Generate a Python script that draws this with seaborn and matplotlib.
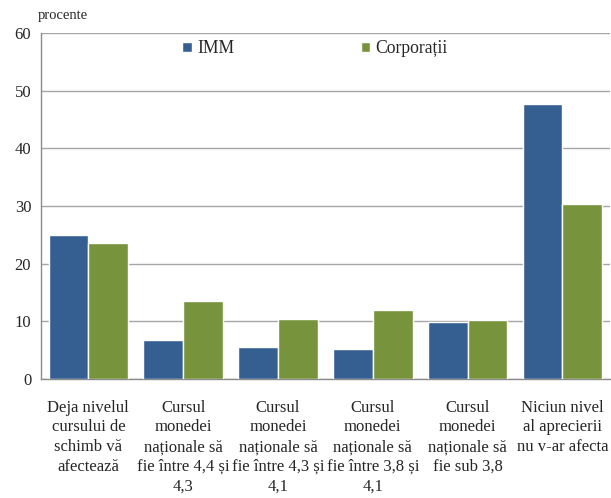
import pandas as pd
import matplotlib
matplotlib.use("Agg")
import matplotlib.pyplot as plt
import seaborn as sns
import numpy as np

# date
categorii = [
    "Deja nivelul\ncursului de\nschimb vă\nafectează",
    "Cursul\nmonedei\nnaționale să\nfie între 4,4 și\n4,3",
    "Cursul\nmonedei\nnaționale să\nfie între 4,3 și\n4,1",
    "Cursul\nmonedei\nnaționale să\nfie între 3,8 și\n4,1",
    "Cursul\nmonedei\nnaționale să\nfie sub 3,8",
    "Niciun nivel\nal aprecierii\nnu v-ar afecta",
]
imm = [25.0, 6.7, 5.6, 5.2, 9.9, 47.7]
corporatii = [23.6, 13.6, 10.4, 11.9, 10.2, 30.3]
serii = ["IMM", "Corporații"]
culori = ["#365f91", "#77933c"]

df = pd.DataFrame({
    "categorie": categorii * 2,
    "serie": [serii[0]] * len(categorii) + [serii[1]] * len(categorii),
    "valoare": imm + corporatii,
})

sns.set_style("white")
plt.rcParams['font.family'] = ['Liberation Serif', 'DejaVu Serif']

fig = plt.figure(figsize=(6.11, 4.98), dpi=100)
ax = fig.add_axes([0.067, 0.239, 0.931, 0.695])

sns.barplot(data=df, x="categorie", y="valoare", hue="serie",
            palette=culori, width=0.84, saturation=1, ax=ax, zorder=3)

ax.set_ylim(0, 60)
ax.set_xlim(-0.5, len(categorii) - 0.5)
ax.set_yticks(np.arange(0, 61, 10))
ax.yaxis.grid(True, color="#a6a6a6", linewidth=1, zorder=0)
ax.set_axisbelow(True)
ax.set_xlabel("")
ax.set_ylabel("")

ax.tick_params(axis="y", labelsize=12, length=4, color="#8c8c8c", pad=3)
ax.tick_params(axis="x", which="major", labelsize=12, length=0, pad=15)
ax.set_xticks(np.arange(len(categorii)))
ax.set_xticklabels(categorii, linespacing=1.3)
ax.set_xticks(np.arange(-0.5, len(categorii), 1), minor=True)
ax.tick_params(axis="x", which="minor", length=4, color="#8c8c8c")

for s in ["top", "right"]:
    ax.spines[s].set_visible(False)
for s in ["left", "bottom"]:
    ax.spines[s].set_color("#8c8c8c")
    ax.spines[s].set_linewidth(1)

leg = ax.legend(loc="upper center", bbox_to_anchor=(0.482, 1.025), ncol=2,
                frameon=False, fontsize=12.7, handlelength=0.55, handleheight=0.55,
                handletextpad=0.3, columnspacing=7.15)

fig.text(0.062, 0.955, "procente", fontsize=10.5, ha="left", va="bottom")

fig.savefig("out.png", dpi=100)
